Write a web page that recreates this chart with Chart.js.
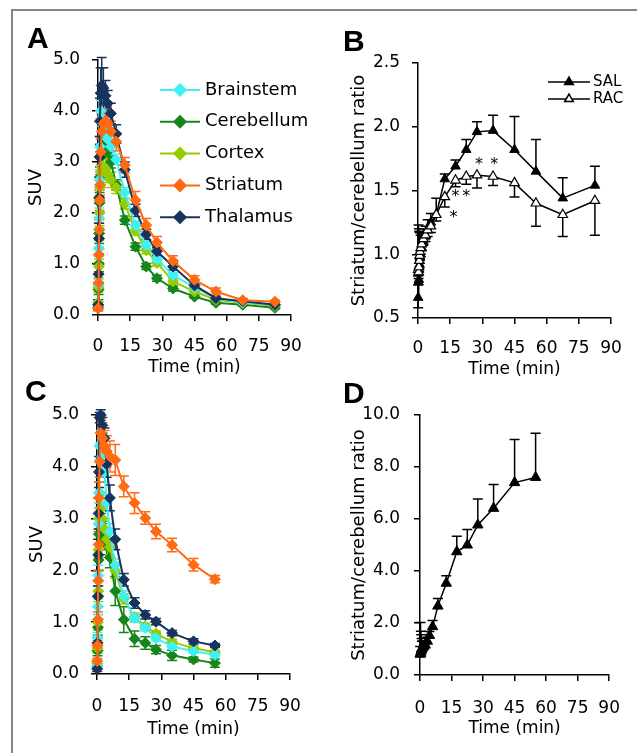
<!DOCTYPE html>
<html><head><meta charset="utf-8">
<script src="https://cdn.jsdelivr.net/npm/chart.js@4.4.1/dist/chart.umd.min.js"></script>
<style>
html,body{margin:0;padding:0;background:#fff;}
body{width:637px;height:753px;position:relative;overflow:hidden;}
canvas{position:absolute;}
.frame{position:absolute;left:11px;top:9px;width:700px;height:800px;border-left:2px solid #858585;border-top:2px solid #858585;}
.lab{position:absolute;font:bold 30px "Liberation Sans",Arial,sans-serif;line-height:30px;color:#000;}
</style></head><body>
<div class="frame"></div>
<canvas id="cA" width="318" height="378" style="left:0;top:0"></canvas>
<canvas id="cB" width="319" height="380" style="left:318px;top:0"></canvas>
<canvas id="cC" width="318" height="375" style="left:0;top:378px"></canvas>
<canvas id="cD" width="319" height="375" style="left:318px;top:378px"></canvas>
<div class="lab" style="left:27px;top:23px">A</div>
<div class="lab" style="left:343px;top:26px">B</div>
<div class="lab" style="left:25px;top:376px">C</div>
<div class="lab" style="left:343px;top:378px">D</div>
<script>
// ---------- DATA ----------
const times = [0.08,0.25,0.42,0.58,0.75,0.92,1.25,1.75,2.5,3.5,4.5,6,8.5,12.5,17.5,22.5,27.5,35,45,55,67.5,82.5];
const timesC = [0.08,0.25,0.42,0.58,0.75,0.92,1.25,1.75,2.5,3.5,4.5,6,8.5,12.5,17.5,22.5,27.5,35,45,55];
const regions = ['Brainstem','Cerebellum','Cortex','Striatum','Thalamus'];
const xTicks = [0,15,30,45,60,75,90];

// Panel A (SUV)
const A_brainstem  = [0.2,0.6,1.3,1.9,2.65,3.3,4.0,3.85,3.7,3.55,3.45,3.3,3.05,2.4,1.76,1.37,1.09,0.78,0.54,0.33,0.25,0.2];
const A_cerebellum = [0.15,0.5,1.0,1.6,2.2,2.7,3.1,3.3,3.35,3.3,3.2,3.0,2.55,1.86,1.34,0.95,0.72,0.52,0.36,0.24,0.2,0.14];
const A_cortex     = [0.25,0.55,0.95,1.5,2.0,2.5,2.8,2.9,2.9,2.85,2.75,2.65,2.5,2.18,1.65,1.27,1.02,0.66,0.46,0.3,0.24,0.18];
const A_striatum   = [0.13,0.63,1.18,1.67,2.25,2.55,3.2,3.6,3.75,3.8,3.75,3.6,3.4,2.94,2.25,1.76,1.42,1.06,0.69,0.46,0.29,0.26];
const A_thalamus   = [0.2,0.8,1.5,2.3,3.1,3.8,4.35,4.5,4.45,4.3,4.15,3.95,3.55,2.85,2.05,1.58,1.25,0.95,0.58,0.33,0.27,0.2];
const A_brainstemErr  = [0.05,0.1,0.15,0.2,0.2,0.2,0.2,0.15,0.15,0.12,0.12,0.1,0.1,0.1,0.08,0.07,0.06,0.05,0.04,0.03,0.02,0.02];
const A_cerebellumErr = [0.05,0.1,0.15,0.2,0.2,0.2,0.2,0.2,0.15,0.15,0.12,0.12,0.1,0.08,0.07,0.06,0.06,0.05,0.03,0.03,0.02,0.02];
const A_cortexErr     = [0.05,0.1,0.15,0.2,0.25,0.25,0.25,0.25,0.2,0.2,0.15,0.15,0.12,0.1,0.08,0.07,0.06,0.05,0.04,0.03,0.02,0.02];
const A_striatumErr   = [0.05,0.1,0.15,0.2,0.2,0.2,0.25,0.3,0.3,0.25,0.22,0.2,0.18,0.15,0.17,0.13,0.12,0.1,0.08,0.07,0.04,0.03];
const A_thalamusErr   = [0.1,0.2,0.3,0.4,0.4,0.45,0.5,0.55,0.4,0.3,0.25,0.2,0.18,0.15,0.12,0.1,0.08,0.07,0.05,0.04,0.03,0.02];

// Panel B (Striatum/cerebellum ratio)
const B_sal        = [0.66,0.78,0.80,0.88,0.92,0.97,1.00,1.05,1.10,1.14,1.19,1.25,1.31,1.59,1.69,1.82,1.96,1.97,1.82,1.65,1.44,1.54];
const B_salErrUp   = [0.1,0.45,0.4,0.3,0.25,0.2,0.15,0.12,0.1,0.08,0.08,0.07,0.13,0.04,0.05,0.08,0.08,0.12,0.26,0.25,0.16,0.15];
const B_salErrDown = [0.08,0,0,0,0,0,0,0,0,0,0,0,0,0,0,0,0,0,0,0,0,0];
const B_rac        = [0.88,0.86,0.90,0.95,0.99,1.02,1.05,1.08,1.12,1.15,1.19,1.22,1.31,1.45,1.58,1.61,1.62,1.61,1.56,1.40,1.31,1.42];
const B_racErrDown = [0.05,0.05,0.06,0.06,0.06,0.06,0.05,0.05,0.05,0.05,0.05,0.05,0.05,0.08,0.05,0.06,0.10,0.07,0.11,0.18,0.17,0.27];
const B_starTimes  = [16.5,17.5,22.5,28.5,35.5];
const B_starValues = [1.32,1.48,1.48,1.73,1.73];

// Panel C (SUV)
const C_brainstem  = [0.15,0.7,1.3,1.9,2.9,3.5,4.4,4.45,4.2,3.9,3.3,2.75,2.1,1.5,1.08,0.89,0.69,0.53,0.44,0.37];
const C_cerebellum = [0.15,0.45,0.9,1.5,2.2,2.7,3.0,2.9,2.75,2.6,2.5,2.25,1.6,1.05,0.68,0.6,0.47,0.36,0.28,0.21];
const C_cortex     = [0.2,0.5,1.0,1.6,2.4,3.0,3.5,3.2,3.0,2.8,2.6,2.45,2.0,1.45,1.1,0.92,0.78,0.62,0.5,0.42];
const C_striatum   = [0.25,0.55,1.05,1.8,2.5,3.4,4.1,4.65,4.55,4.4,4.3,4.2,4.13,3.62,3.3,3.01,2.75,2.49,2.11,1.83];
const C_thalamus   = [0.1,0.6,1.5,2.3,3.1,3.9,4.95,5.0,4.8,4.55,4.05,3.4,2.6,1.82,1.37,1.14,1.01,0.79,0.63,0.55];
const C_brainstemErr  = [0.05,0.1,0.15,0.2,0.2,0.2,0.25,0.25,0.2,0.2,0.15,0.15,0.12,0.1,0.08,0.06,0.05,0.05,0.04,0.03];
const C_cerebellumErr = [0.05,0.1,0.15,0.2,0.2,0.2,0.2,0.2,0.2,0.2,0.2,0.2,0.28,0.25,0.15,0.12,0.08,0.1,0.05,0.08];
const C_cortexErr     = [0.05,0.1,0.15,0.2,0.2,0.2,0.2,0.2,0.2,0.2,0.15,0.15,0.15,0.1,0.08,0.06,0.05,0.05,0.04,0.04];
const C_striatumErr   = [0.05,0.1,0.15,0.2,0.25,0.3,0.3,0.3,0.3,0.3,0.3,0.3,0.3,0.2,0.2,0.12,0.14,0.13,0.12,0.07];
const C_thalamusErr   = [0.05,0.1,0.2,0.3,0.3,0.3,0.1,0.1,0.15,0.2,0.25,0.25,0.2,0.12,0.1,0.08,0.06,0.05,0.05,0.04];

// Panel D (Striatum/cerebellum ratio)
const D_ratio = [0.8,0.82,0.88,0.95,1.0,1.0,1.05,1.1,1.15,1.3,1.52,1.86,2.65,3.53,4.74,5.0,5.77,6.41,7.4,7.6];
const D_errUp = [0.3,1.2,0.8,0.6,0.4,0.3,0.25,0.2,0.15,0.15,0.15,0.24,0.29,0.29,0.6,0.6,1.0,0.92,1.66,1.7];

// ---------- STYLE ----------
const FONT = '"DejaVu Sans", sans-serif';
const TXT = '#000';
const colors = {Brainstem:'#3FF0F5', Cerebellum:'#16861C', Cortex:'#99CC00', Striatum:'#FF6A12', Thalamus:'#17345E'};
const zOrder = {Brainstem:2, Cerebellum:4, Cortex:3, Striatum:0, Thalamus:1};

function pts(xs, ys){ return ys.map((v,i)=>({x:xs[i], y:v})); }

function markerPath(ctx, style, x, y, r){
  ctx.beginPath();
  if (style === 'rectRot'){
    ctx.moveTo(x, y-r); ctx.lineTo(x+r, y); ctx.lineTo(x, y+r); ctx.lineTo(x-r, y);
  } else {
    for (let k=0;k<3;k++){
      const a = k*2*Math.PI/3;
      const px = x + Math.sin(a)*r, py = y - Math.cos(a)*r;
      if (k===0) ctx.moveTo(px,py); else ctx.lineTo(px,py);
    }
  }
  ctx.closePath();
}

const errorBars = {
  id:'errorBars',
  beforeDatasetsDraw(chart){
    const ctx = chart.ctx, xs = chart.scales.x, ys = chart.scales.y;
    const list = chart.data.datasets.map((d,i)=>({d,i})).sort((a,b)=>(b.d.order||0)-(a.d.order||0));
    list.forEach(({d})=>{
      if (!d.errUp && !d.errDown) return;
      ctx.save();
      ctx.strokeStyle = d.errColor || d.borderColor;
      ctx.lineWidth = 1.5;
      d.data.forEach((p,i)=>{
        const up = d.errUp ? d.errUp[i] : 0, dn = d.errDown ? d.errDown[i] : 0;
        const x = xs.getPixelForValue(p.x);
        const yT = ys.getPixelForValue(p.y+up), yB = ys.getPixelForValue(p.y-dn);
        ctx.beginPath();
        ctx.moveTo(x,yT); ctx.lineTo(x,yB);
        if (up>0){ ctx.moveTo(x-5,yT); ctx.lineTo(x+5,yT); }
        if (dn>0){ ctx.moveTo(x-5,yB); ctx.lineTo(x+5,yB); }
        ctx.stroke();
      });
      ctx.restore();
    });
  }
};

const boxLegend = {
  id:'boxLegend',
  afterDraw(chart, args, o){
    if (!o || !o.display) return;
    const ctx = chart.ctx;
    chart.data.datasets.forEach((d,i)=>{
      const y = o.y + i*o.dy;
      ctx.save();
      ctx.strokeStyle = d.borderColor; ctx.lineWidth = d.borderWidth;
      ctx.beginPath(); ctx.moveTo(o.x1,y); ctx.lineTo(o.x2,y); ctx.stroke();
      markerPath(ctx, d.pointStyle, (o.x1+o.x2)/2, y, o.r);
      ctx.fillStyle = d.pointBackgroundColor; ctx.fill();
      ctx.lineWidth = 1.5; ctx.strokeStyle = d.pointBorderColor; ctx.stroke();
      ctx.fillStyle = TXT; ctx.font = o.size + 'px ' + FONT;
      ctx.textBaseline = 'middle'; ctx.textAlign = 'left';
      ctx.fillText(d.label, o.tx, y);
      ctx.restore();
    });
  }
};

const stars = {
  id:'stars',
  afterDatasetsDraw(chart, args, o){
    if (!o || !o.times) return;
    const ctx = chart.ctx, xs = chart.scales.x, ys = chart.scales.y;
    ctx.save();
    ctx.fillStyle = '#000'; ctx.font = '16px ' + FONT;
    ctx.textAlign = 'center'; ctx.textBaseline = 'middle';
    o.times.forEach((t,i)=>{
      ctx.fillText('*', xs.getPixelForValue(t), ys.getPixelForValue(o.values[i]) + 4);
    });
    ctx.restore();
  }
};

function scales(o){
  return {
    x:{type:'linear', min:0, max:90,
      afterBuildTicks: s => { s.ticks = xTicks.map(v=>({value:v})); },
      ticks:{autoSkip:false, maxRotation:0, padding:o.xPad, color:TXT, font:{family:FONT,size:17}},
      grid:{display:true, drawOnChartArea:false, drawTicks:true, tickLength:6, color:'#000', lineWidth:1.5},
      border:{display:true, color:'#000', width:1.5},
      title:{display:true, text:'Time (min)', color:TXT, font:{family:FONT,size:17}, padding:{top:0,bottom:o.xTitlePad}},
      afterFit: s => { s.height = o.xH; }
    },
    y:{type:'linear', min:o.yMin, max:o.yMax,
      ticks:{stepSize:o.yStep, padding:o.yPad, color:TXT, font:{family:FONT,size:17}, callback:v=>Number(v).toFixed(1)},
      grid:{display:true, drawOnChartArea:false, drawTicks:true, tickLength:6, color:'#000', lineWidth:1.5},
      border:{display:true, color:'#000', width:1.5},
      title:{display:true, text:o.yTitle, color:TXT, font:{family:FONT,size:18}, padding:{top:o.yTitlePad,bottom:0}},
      afterFit: s => { s.width = o.yW; }
    }
  };
}

function regionSets(xs, arrs, errs){
  return regions.map((name,k)=>({
    label:name, data:pts(xs, arrs[k]), errUp:errs[k], errDown:errs[k],
    borderColor:colors[name], backgroundColor:colors[name],
    pointBackgroundColor:colors[name], pointBorderColor:colors[name],
    borderWidth:2, pointStyle:'rectRot', pointRadius:5.5, pointBorderWidth:1,
    tension:0, clip:false, order:zOrder[name]
  }));
}

function baseOpts(padding, sc, extraPlugins){
  return {
    responsive:false, animation:false, devicePixelRatio:1,
    layout:{padding},
    scales:sc,
    plugins:Object.assign({legend:{display:false}, tooltip:{enabled:false}}, extraPlugins)
  };
}

// Panel A
new Chart(document.getElementById('cA'), {
  type:'line',
  data:{datasets:regionSets(times, [A_brainstem,A_cerebellum,A_cortex,A_striatum,A_thalamus],
        [A_brainstemErr,A_cerebellumErr,A_cortexErr,A_striatumErr,A_thalamusErr])},
  options:baseOpts({left:0,top:60,right:27,bottom:0},
    scales({xPad:15,xTitlePad:0,xH:63,yMin:0,yMax:5,yStep:1,yPad:12,yTitle:'SUV',yTitlePad:26,yW:98}),
    {boxLegend:{display:true,x1:160,x2:200,tx:205,y:90,dy:31.8,r:6,size:18}}),
  plugins:[errorBars, boxLegend]
});

// Panel B
new Chart(document.getElementById('cB'), {
  type:'line',
  data:{datasets:[
    {label:'SAL', data:pts(times,B_sal), errUp:B_salErrUp, errDown:B_salErrDown, borderColor:'#000', backgroundColor:'#000',
     pointBackgroundColor:'#000', pointBorderColor:'#000', borderWidth:1.5, pointStyle:'triangle',
     pointRadius:5.5, pointBorderWidth:1, tension:0, clip:false, order:1},
    {label:'RAC', data:pts(times,B_rac), errDown:B_racErrDown, borderColor:'#000', backgroundColor:'#fff',
     pointBackgroundColor:'#fff', pointBorderColor:'#000', borderWidth:1.5, pointStyle:'triangle',
     pointRadius:5.5, pointBorderWidth:1.2, tension:0, clip:false, order:0}
  ]},
  options:baseOpts({left:0,top:63,right:26,bottom:0},
    scales({xPad:14,xTitlePad:0,xH:62,yMin:0.5,yMax:2.5,yStep:0.5,yPad:12,yTitle:'Striatum/cerebellum ratio',yTitlePad:31,yW:100}),
    {boxLegend:{display:true,x1:230,x2:272,tx:275,y:82,dy:17,r:5,size:15},
     stars:{times:B_starTimes, values:B_starValues}}),
  plugins:[errorBars, boxLegend, stars]
});

// Panel C
new Chart(document.getElementById('cC'), {
  type:'line',
  data:{datasets:regionSets(timesC, [C_brainstem,C_cerebellum,C_cortex,C_striatum,C_thalamus],
        [C_brainstemErr,C_cerebellumErr,C_cortexErr,C_striatumErr,C_thalamusErr])},
  options:baseOpts({left:0,top:37,right:28,bottom:0},
    scales({xPad:16,xTitlePad:13,xH:79,yMin:0,yMax:5,yStep:1,yPad:12,yTitle:'SUV',yTitlePad:27,yW:97}),
    {}),
  plugins:[errorBars]
});

// Panel D
new Chart(document.getElementById('cD'), {
  type:'line',
  data:{datasets:[
    {label:'Striatum/cerebellum', data:pts(timesC,D_ratio), errUp:D_errUp, borderColor:'#000', backgroundColor:'#000',
     pointBackgroundColor:'#000', pointBorderColor:'#000', borderWidth:1.5, pointStyle:'triangle',
     pointRadius:6, pointBorderWidth:1, tension:0, clip:false}
  ]},
  options:baseOpts({left:0,top:37,right:23,bottom:0},
    scales({xPad:17,xTitlePad:14,xH:78,yMin:0,yMax:10,yStep:2,yPad:14,yTitle:'Striatum/cerebellum ratio',yTitlePad:31,yW:102}),
    {}),
  plugins:[errorBars]
});
</script>
</body></html>
